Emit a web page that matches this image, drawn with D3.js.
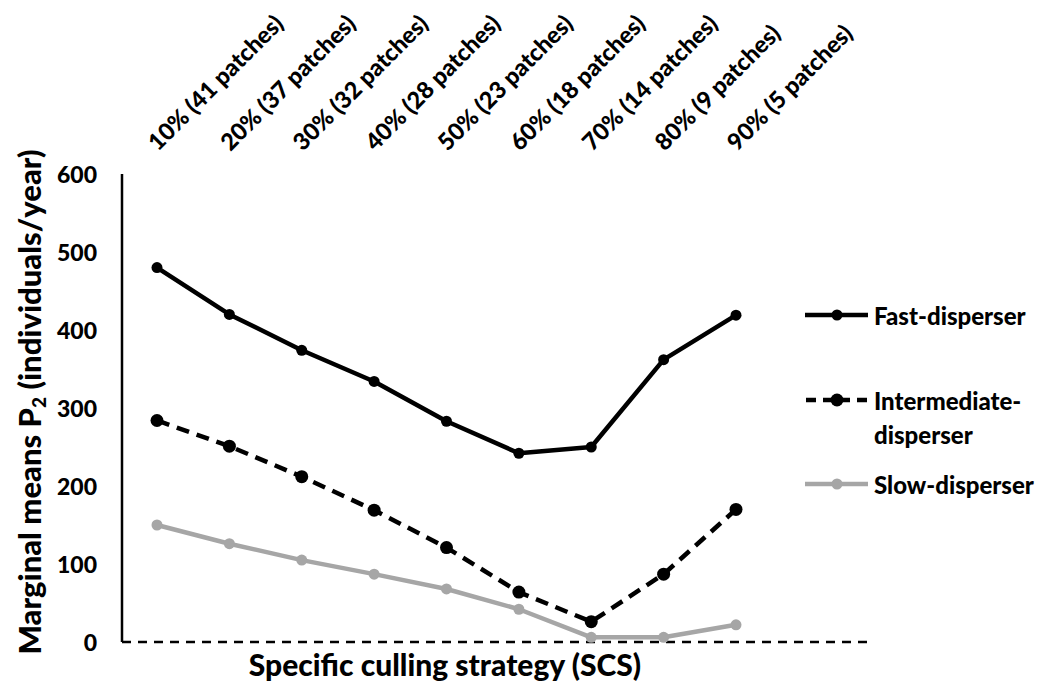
<!DOCTYPE html>
<html>
<head>
<meta charset="utf-8">
<script src="https://cdn.jsdelivr.net/npm/d3@7"></script>
<style>
  html, body { margin: 0; padding: 0; background: #fff; }
  svg { display: block; font-family: Lato, "Open Sans", sans-serif; font-weight: 900; }
</style>
</head>
<body>
<svg id="chart" width="1038" height="688"></svg>
<script>
// Culling strategies (share of patches culled)
const categories = [
  "10% (41 patches)", "20% (37 patches)", "30% (32 patches)",
  "40% (28 patches)", "50% (23 patches)", "60% (18 patches)",
  "70% (14 patches)", "80% (9 patches)", "90% (5 patches)"
];
// Marginal means of P2 (individuals/year) by disperser type
const fastValues = [480, 420, 374, 334, 283, 242, 250, 362, 419];
const intermediateValues = [284, 251, 212, 169, 121, 64, 26, 87, 170];
const slowValues = [150, 126, 105, 87, 68, 42, 6, 6, 22];
const yTicks = [0, 100, 200, 300, 400, 500, 600];

const series = [
  { name: ["Fast-disperser"], values: fastValues, color: "#000", dash: null, r: 5.5, legendY: 315 },
  { name: ["Intermediate-", "disperser"], values: intermediateValues, color: "#000", dash: "13,8", r: 6.5, legendY: 400 },
  { name: ["Slow-disperser"], values: slowValues, color: "#a6a6a6", dash: null, r: 5.5, legendY: 484 }
];

const svg = d3.select("#chart");

const x = d3.scalePoint().domain(categories).range([157, 736]);
const y = d3.scaleLinear().domain([0, 600]).range([642, 174]);

// Vertical axis line and labels
svg.append("line")
  .attr("x1", 122).attr("x2", 122)
  .attr("y1", y(600)).attr("y2", y(0))
  .attr("stroke", "#000").attr("stroke-width", 2.5);

svg.append("g").selectAll("text")
  .data(yTicks).join("text")
  .attr("x", 97).attr("y", d => y(d))
  .attr("text-anchor", "end")
  .attr("dominant-baseline", "central")
  .attr("font-size", 23)
  .text(d => d);

// Dashed zero line
svg.append("line")
  .attr("x1", 122).attr("x2", 868)
  .attr("y1", y(0)).attr("y2", y(0))
  .attr("stroke", "#000").attr("stroke-width", 2.5)
  .attr("stroke-dasharray", "9,7");

// Category labels along the top, rotated
svg.append("g").selectAll("text")
  .data(categories).join("text")
  .attr("transform", d => `translate(${x(d) + 1},152) rotate(-45)`)
  .attr("font-size", 23.5)
  .text(d => d);

// Axis titles
const yTitle = svg.append("text")
  .attr("transform", "translate(41,402) rotate(-90)")
  .attr("text-anchor", "middle")
  .attr("font-size", 31);
yTitle.append("tspan").text("Marginal means P");
yTitle.append("tspan").attr("font-size", 19).attr("dy", 5).text("2");
yTitle.append("tspan").attr("dy", -5).text(" (individuals/year)");

svg.append("text")
  .attr("x", 445).attr("y", 676)
  .attr("text-anchor", "middle")
  .attr("font-size", 30)
  .text("Specific culling strategy (SCS)");

// Series lines and markers
const line = d3.line()
  .x((d, i) => x(categories[i]))
  .y(d => y(d));

series.forEach(s => {
  const g = svg.append("g");
  g.append("path")
    .datum(s.values)
    .attr("d", line)
    .attr("fill", "none")
    .attr("stroke", s.color)
    .attr("stroke-width", 4.5)
    .attr("stroke-linejoin", "round")
    .attr("stroke-dasharray", s.dash);
  g.selectAll("circle")
    .data(s.values).join("circle")
    .attr("cx", (d, i) => x(categories[i]))
    .attr("cy", d => y(d))
    .attr("r", s.r)
    .attr("fill", s.color);
});

// Legend
series.forEach(s => {
  const g = svg.append("g");
  g.append("line")
    .attr("x1", 805).attr("x2", 868)
    .attr("y1", s.legendY).attr("y2", s.legendY)
    .attr("stroke", s.color).attr("stroke-width", 4.5)
    .attr("stroke-dasharray", s.dash ? "10,7" : null)
    .attr("stroke-dashoffset", s.dash ? -1 : null);
  g.append("circle")
    .attr("cx", 837).attr("cy", s.legendY).attr("r", s.r)
    .attr("fill", s.color);
  g.append("text")
    .attr("x", 874).attr("y", s.legendY)
    .attr("dominant-baseline", "central")
    .attr("font-size", 24)
    .selectAll("tspan")
    .data(s.name).join("tspan")
    .attr("x", 874)
    .attr("dy", (d, i) => i === 0 ? 0 : 34)
    .text(d => d);
});
</script>
</body>
</html>
